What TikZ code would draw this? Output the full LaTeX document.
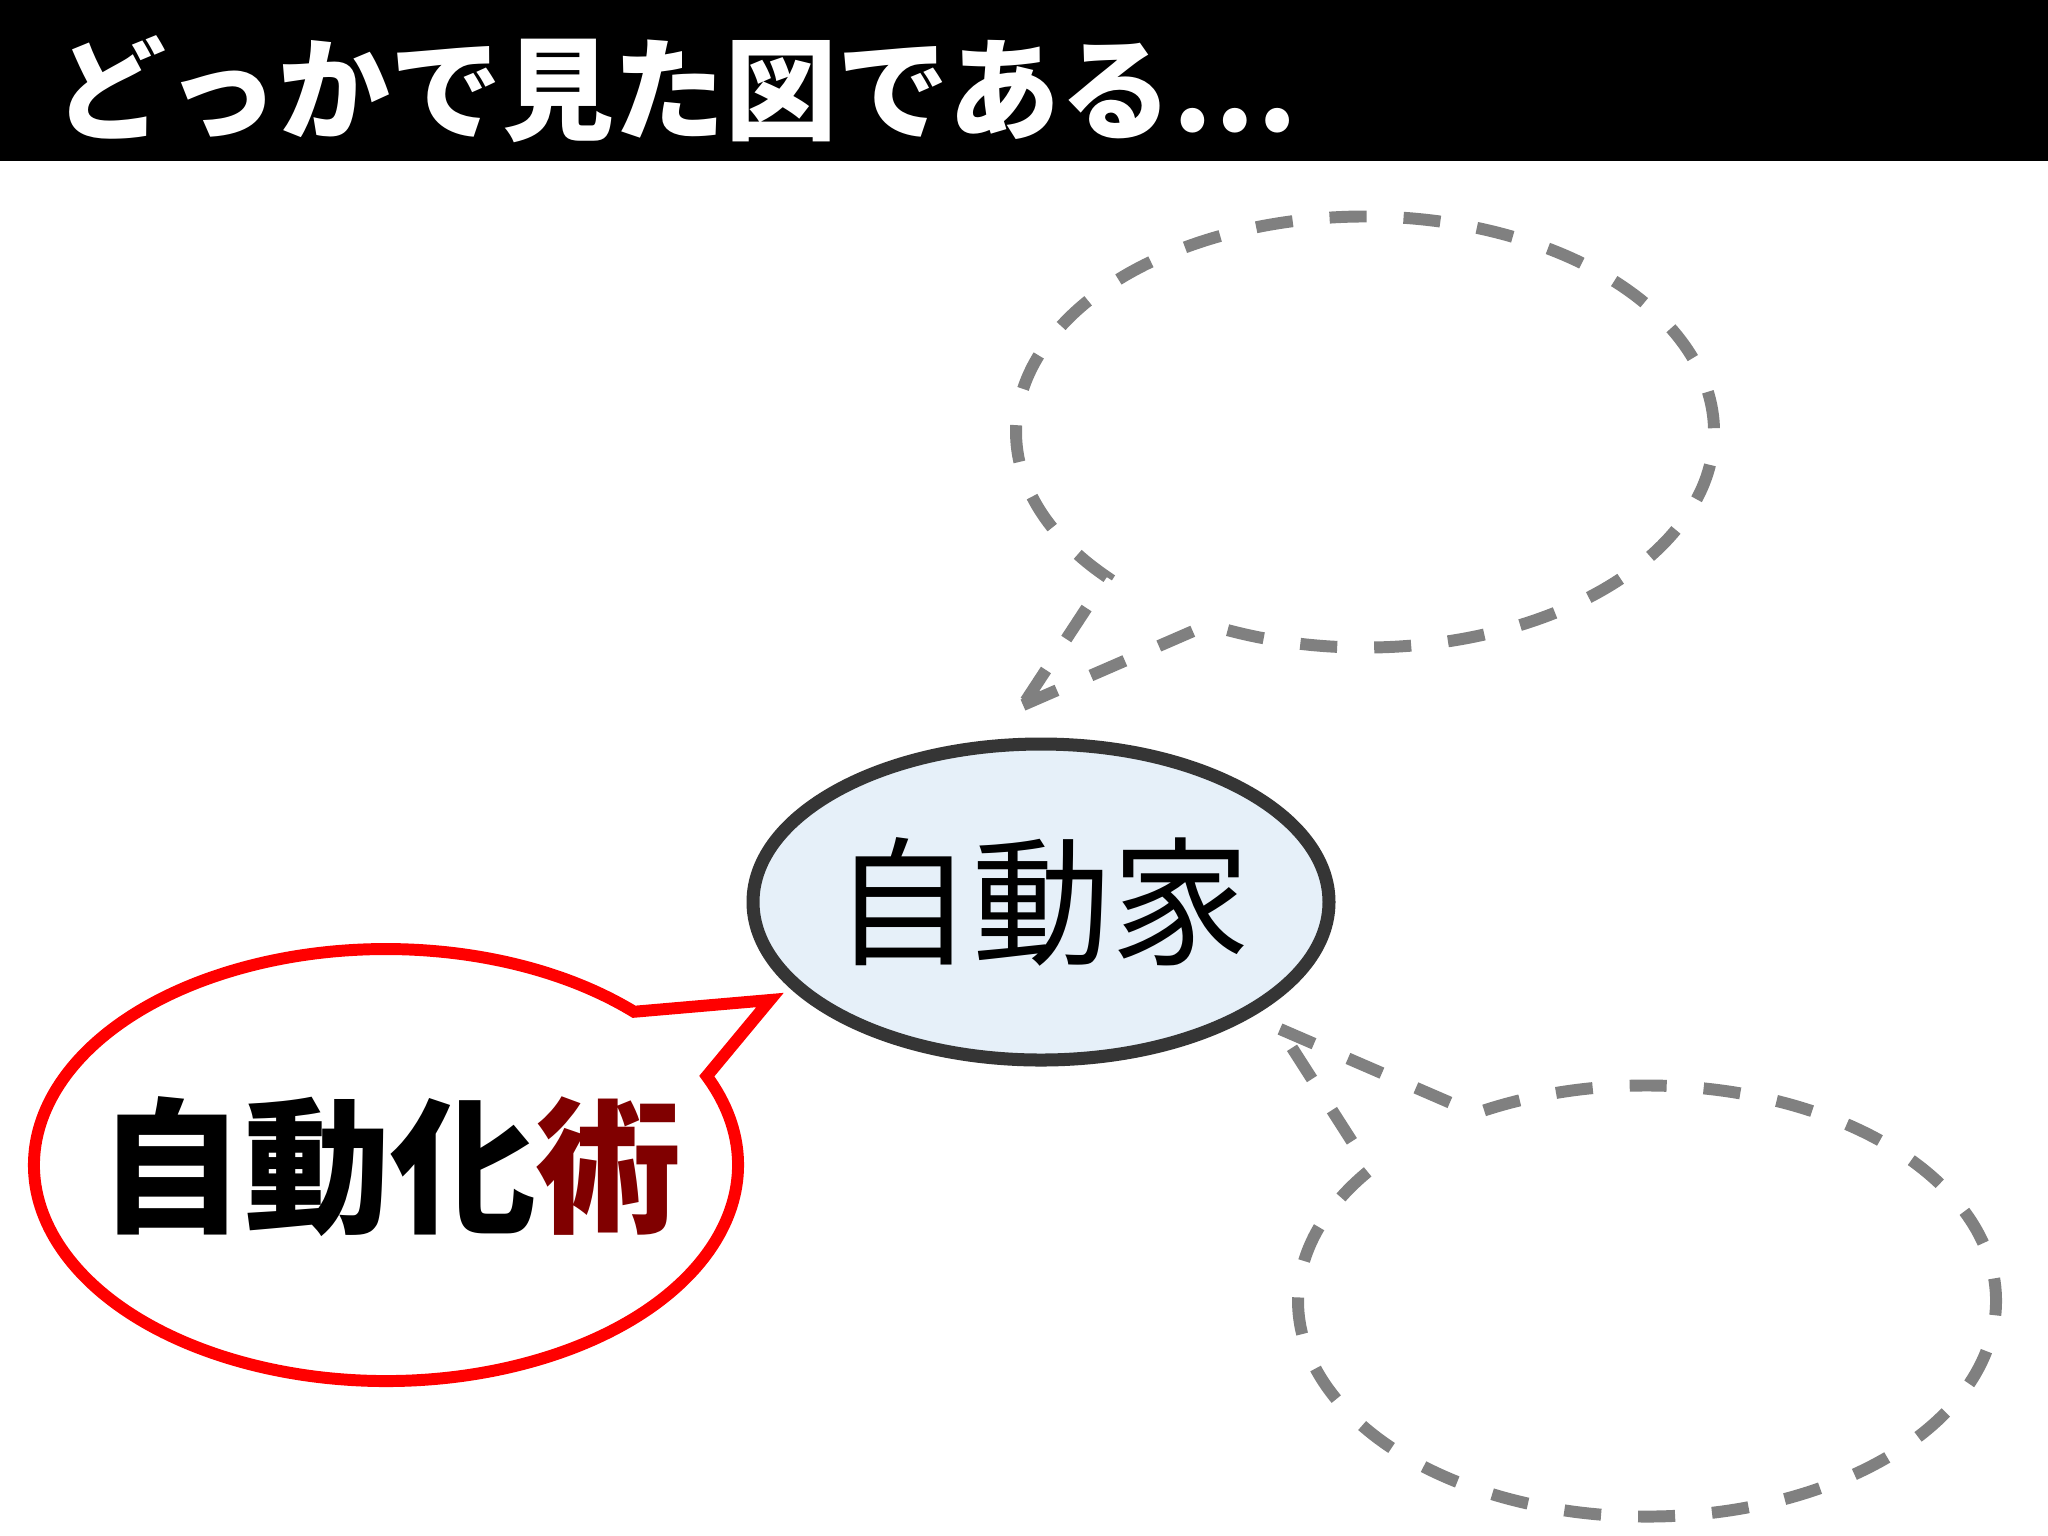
\documentclass[tikz,border=0pt]{standalone}
\usepackage{fontspec}
\usetikzlibrary{calc}
\newfontfamily\jpfont{Noto Sans CJK JP}
\definecolor{bubbleblue}{HTML}{E6F0F9}
\definecolor{rimgray}{HTML}{353535}
\definecolor{dashgray}{HTML}{808080}
\definecolor{darkred}{HTML}{800000}

\begin{document}
\begin{tikzpicture}[
    x = 0.01cm, y = -0.01cm,
    every node/.append style = {font=\jpfont, inner sep=0pt},
    dashbubble/.style = {draw=dashgray, line width=3.4pt, dash pattern=on 0.37cm off 0.37cm},
    redbubble/.style = {draw=red, line width=3.4pt},
  ]
  \begin{scope}
    %%+++++++++++++++++++++++++
    % Variables
    % Page
    \pgfmathsetmacro{\Wpage}{2048}
    \pgfmathsetmacro{\Hpage}{1535}
    \pgfmathsetmacro{\Hbar}{161}
    % Centre ellipse
    \pgfmathsetmacro{\xc}{1041}
    \pgfmathsetmacro{\yc}{902}
    % Bubbles (radii)
    \pgfmathsetmacro{\rx}{349}
    \pgfmathsetmacro{\ry}{215.5}
    %%+++++++++++++++++++++++++
    % Drawing
    \fill[white] (0,0) rectangle (\Wpage,\Hpage);
    \useasboundingbox (0,0) rectangle (\Wpage,\Hpage);
    % Title bar
    \fill[black] (0,0) rectangle (\Wpage,\Hbar);
    \node[anchor=west, text=white, font=\jpfont\bfseries\fontsize{31.8}{31.8}\selectfont] (title) at (54,89) {どっかで見た図である…};
    % Centre
    \draw[rimgray, line width=3.7pt, fill=bubbleblue] (\xc,\yc) ellipse [x radius=288, y radius=158];
    \node[font=\jpfont\fontsize{39.5}{39.5}\selectfont] (jidouka) at (\xc+1,\yc) {自動家};
    % Red bubble
    \coordinate (cR) at (386,1165);
    \coordinate (tipR) at (770,1000);
    \draw[redbubble] (cR) ++(-24.3:352 and 216) arc[start angle=-24.3, end angle=314.8, x radius=352, y radius=216] -- (tipR) -- cycle;
    \node[font=\jpfont\bfseries\fontsize{41.5}{41.5}\selectfont] (jutsu) at (390,1167) {自動化\textcolor{darkred}{術}};
    % Dashed bubbles
    \coordinate (cTR) at (1365,432);
    \coordinate (tipTR) at (1023,705);
    \draw[dashbubble] (tipTR) -- ($(cTR)+(116.7:{\rx} and {\ry})$) arc[start angle=116.7, end angle=-222.3, x radius=\rx, y radius=\ry] -- cycle;
    \coordinate (cBR) at (1647,1301);
    \coordinate (tipBR) at (1280,1029);
    \draw[dashbubble] (tipBR) -- ($(cBR)+(-119.5:{\rx} and {\ry})$) arc[start angle=-119.5, end angle=217.5, x radius=\rx, y radius=\ry] -- cycle;
  \end{scope}
\end{tikzpicture}
\end{document}
